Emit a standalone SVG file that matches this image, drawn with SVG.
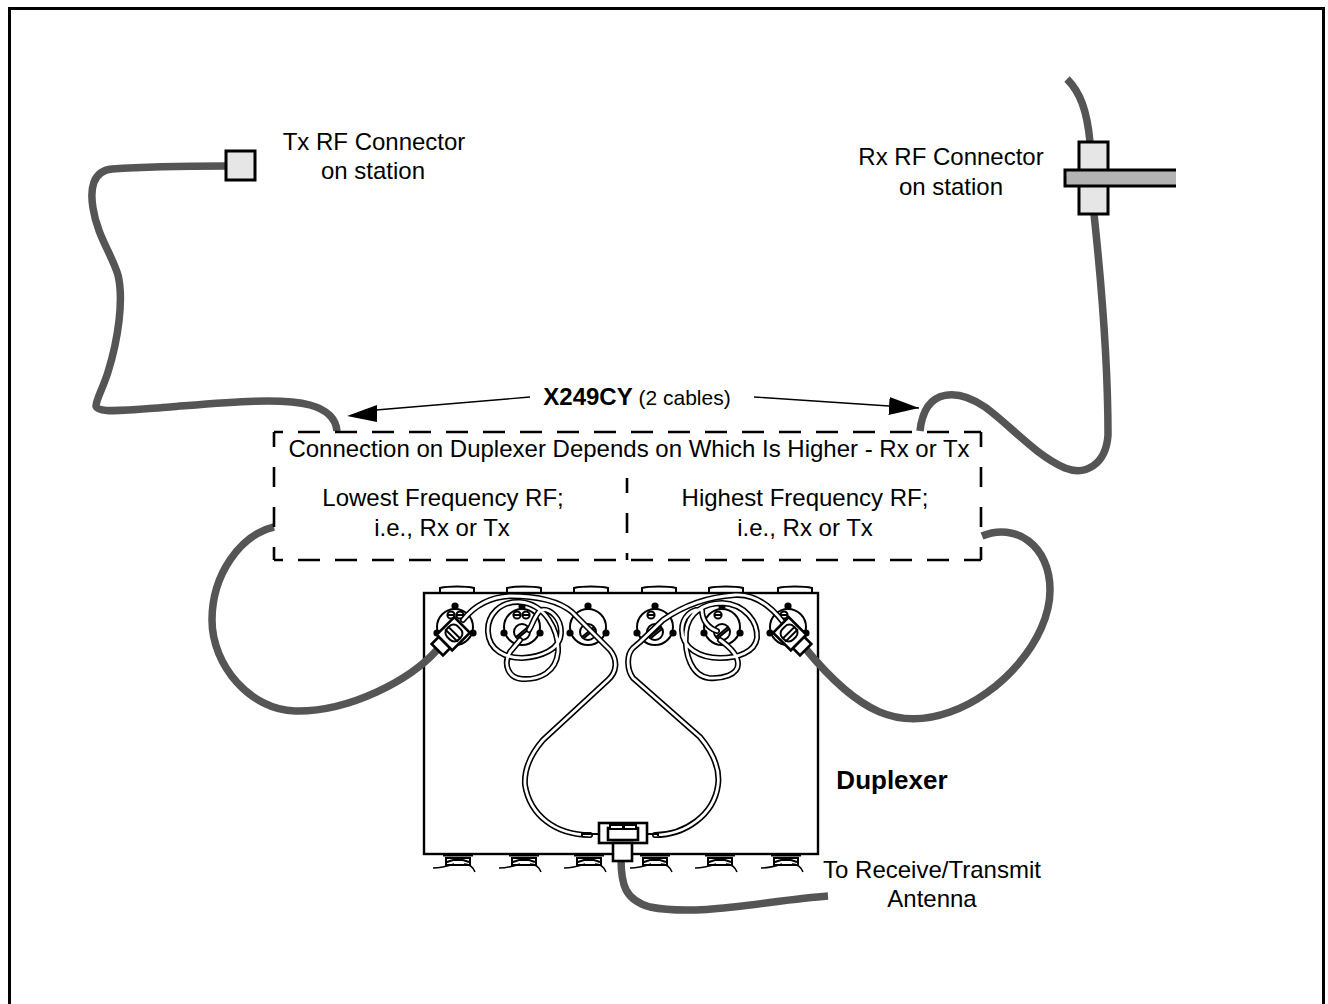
<svg xmlns="http://www.w3.org/2000/svg" width="1328" height="1004" viewBox="0 0 1328 1004">
<style>
text{font-family:"Liberation Sans",Arial,sans-serif;font-size:24px;fill:#000;text-anchor:middle}
.b{font-weight:bold}
.s{font-size:21px}
.g{fill:none;stroke:#555;stroke-width:7.5;stroke-linecap:butt}
.co{fill:#e6e6e6;stroke:#000;stroke-width:3}
.l{fill:none;stroke:#000;stroke-width:2}
.h{fill:none;stroke:#000;stroke-width:3}
.t{fill:none;stroke:#000;stroke-width:1.4}
.w{fill:#fff;stroke:#000;stroke-width:2}
.ws{fill:#fff;stroke:#000;stroke-width:2.6}
.d{fill:none;stroke:#000;stroke-width:2.6;stroke-dasharray:22 15;stroke-dashoffset:13}
.v{fill:none;stroke:#000;stroke-width:2.6;stroke-dasharray:20 20;stroke-dashoffset:5}
.ob{fill:none;stroke:#000;stroke-width:6;stroke-linecap:round;stroke-linejoin:round}
.ow{fill:none;stroke:#fff;stroke-width:2.8;stroke-linecap:round;stroke-linejoin:round}
</style>
<defs>
<marker id="ah" markerUnits="userSpaceOnUse" markerWidth="32" markerHeight="20" refX="30" refY="9" orient="auto"><path d="M0 0L30 9L0 18Z" fill="#000"/></marker>
<g id="port"><circle r="18" class="l"/><circle cy="-21" r="3.6"/><circle cx="-18" cy="6" r="3.6"/><circle cx="18" cy="6" r="3.6"/><circle cy="5" r="8" class="w"/><path d="M-6 10L6 0M-4 11L7 2" class="l"/></g>
<g id="slot"><circle r="3.6" class="w"/><path d="M-4 0H4" class="l"/></g>
<g id="foot"><path d="M-15 1H15" class="h"/><path d="M-12 3V11H12V3M-13 4H13M-11 8L-5 6H5L11 8" class="l"/><path d="M-25 14C-16 14-10 12-4 10M6 10C12 10 15 13 17 18" style="fill:none;stroke:#000;stroke-width:1.5"/></g>
<g id="tab"><path d="M0 7V2C8 0 26 0 34 2V7" class="l"/></g>
<g id="fit"><rect x="-15" y="-11" width="25" height="22" class="ws"/><rect x="-25" y="-8" width="10" height="16" class="ws"/><rect x="-9" y="-8" width="15" height="16" rx="6" class="w"/><path d="M-5 -9V9M-1 -9V9" class="l"/></g>
</defs>
<rect width="1328" height="1004" fill="#fff"/>
<path id="frame" d="M9.5 1004V8.5H1323.5V1004" fill="none" stroke="#000" stroke-width="3"/>
<g id="duplexer">
<rect x="424" y="593" width="394" height="261" fill="#fff" stroke="#000" stroke-width="2.4"/>
<use href="#tab" x="440" y="586"/><use href="#tab" x="507" y="586"/><use href="#tab" x="574" y="586"/><use href="#tab" x="642" y="586"/><use href="#tab" x="709" y="586"/><use href="#tab" x="778" y="586"/>
<use href="#port" x="455" y="627"/><use href="#port" x="522" y="627"/><use href="#port" x="588" y="627"/><use href="#port" x="655" y="627"/><use href="#port" x="722" y="627"/><use href="#port" x="788" y="627"/>
<use href="#slot" x="451" y="615"/><use href="#slot" x="460" y="615"/><use href="#slot" x="517" y="615"/><use href="#slot" x="526" y="615"/><use href="#slot" x="651" y="615"/><use href="#slot" x="718" y="615"/><use href="#slot" x="784" y="615"/>
<use href="#foot" x="458" y="854"/><use href="#foot" x="524" y="854"/><use href="#foot" x="589" y="854"/><use href="#foot" x="655" y="854"/><use href="#foot" x="720" y="854"/><use href="#foot" x="786" y="854"/>
</g>
<g id="connectors">
<path class="g" d="M226 166C190 166 140 167 112 169C92 171 90 190 93 208C97 235 112 255 118 275C124 300 118 340 108 372C103 388 96 400 96 406C98 414 130 410 170 407C220 403 280 397 310 405C328 410 336 420 337 431"/>
<path class="g" d="M1067 79C1080 92 1087 110 1090 142M1094 214C1100 270 1108 350 1108 435C1106 465 1085 476 1065 468C1035 455 1010 425 985 407C960 390 925 385 920 431"/>
<path class="g" d="M274 527C240 535 212 575 212 620C212 665 250 710 295 711C350 712 410 680 437 650"/>
<path class="g" d="M982 536C1015 522 1050 545 1050 590C1050 640 1000 695 950 712C900 730 860 715 805 648"/>
<path class="g" d="M621 858C621 885 625 900 650 907C700 917 770 900 828 896"/>
<g id="thin">
<path class="ob" d="M463 620C475 605 490 597 510 596C540 596 560 602 572 612L597 637L610 650C618 660 617 672 608 680L543 740C530 755 524 770 525 785C530 815 555 835 590 835"/>
<path class="ob" d="M520 640L510 652C503 664 508 678 522 679C540 680 556 672 558 652C559 630 545 604 520 602C500 601 487 615 488 632C489 650 505 658 522 658C540 657 561 650 561 632C561 618 550 608 541 610C535 614 533 624 529 630"/>
<path class="ob" d="M783 622C770 605 755 594 735 595C705 597 680 608 663 620L640 642L633 648C626 655 627 670 633 678L700 737C715 755 720 770 718 785C714 815 685 835 655 835"/>
<path class="ob" d="M720 640C730 647 738 655 738 664C738 675 722 679 709 678C692 676 684 655 686 632C688 612 705 603 722 603C745 604 758 622 757 638C755 652 738 658 720 658C700 658 682 648 682 630C682 617 692 608 702 610C702 620 708 628 717 631"/>
<path class="ow" d="M463 620C475 605 490 597 510 596C540 596 560 602 572 612L597 637L610 650C618 660 617 672 608 680L543 740C530 755 524 770 525 785C530 815 555 835 590 835"/>
<path class="ow" d="M520 640L510 652C503 664 508 678 522 679C540 680 556 672 558 652C559 630 545 604 520 602C500 601 487 615 488 632C489 650 505 658 522 658C540 657 561 650 561 632C561 618 550 608 541 610C535 614 533 624 529 630"/>
<path class="ow" d="M783 622C770 605 755 594 735 595C705 597 680 608 663 620L640 642L633 648C626 655 627 670 633 678L700 737C715 755 720 770 718 785C714 815 685 835 655 835"/>
<path class="ow" d="M720 640C730 647 738 655 738 664C738 675 722 679 709 678C692 676 684 655 686 632C688 612 705 603 722 603C745 604 758 622 757 638C755 652 738 658 720 658C700 658 682 648 682 630C682 617 692 608 702 610C702 620 708 628 717 631"/>
</g>
<use href="#fit" transform="translate(455 632) rotate(-45)"/>
<use href="#fit" transform="translate(788 632) rotate(45) scale(-1 1)"/>
<path d="M376 410L530 397" class="t"/>
<path d="M754 397L919 408" class="t" marker-end="url(#ah)"/>
<path d="M377 405V422L347 416Z" fill="#000"/>
</g>
<g id="tee">
<path d="M582 832V836M600 834H582M647 834H658M658 832V836" class="l"/>
<rect x="599" y="823" width="48" height="20" class="ws"/>
<rect x="608" y="828" width="30" height="12" class="ws"/>
<rect x="610" y="825" width="13" height="4" class="w"/><rect x="624" y="825" width="12" height="4" class="w"/>
<rect x="613" y="843" width="19" height="18" class="ws"/>
</g>
<g id="tx-connector"><rect x="226" y="151" width="29" height="29" class="co"/></g>
<g id="rx-connector">
<rect x="1079" y="142" width="29" height="72" class="co"/>
<path d="M1176 170H1065V186H1176" fill="#b3b3b3" stroke="#000" stroke-width="3"/>
</g>
<g id="dashed-box">
<path class="d" d="M274 432H981M274 560H981"/>
<path class="v" d="M274 432V560M981 432V560"/>
<path class="v" d="M627 478V560"/>
</g>
<g id="labels">
<text x="374" y="150">Tx RF Connector</text><text x="373" y="179">on station</text>
<text x="951" y="165">Rx RF Connector</text><text x="951" y="195">on station</text>
<text x="637" y="405"><tspan class="b">X249CY</tspan><tspan class="s"> (2 cables)</tspan></text>
<text x="629" y="457">Connection on Duplexer Depends on Which Is Higher - Rx or Tx</text>
<text x="443" y="506">Lowest Frequency RF;</text><text x="442" y="536">i.e., Rx or Tx</text>
<text x="805" y="506">Highest Frequency RF;</text><text x="805" y="536">i.e., Rx or Tx</text>
<text x="892" y="789" class="b" style="font-size:26px">Duplexer</text>
<text x="932" y="878">To Receive/Transmit</text><text x="932" y="907">Antenna</text>
</g>
</svg>
